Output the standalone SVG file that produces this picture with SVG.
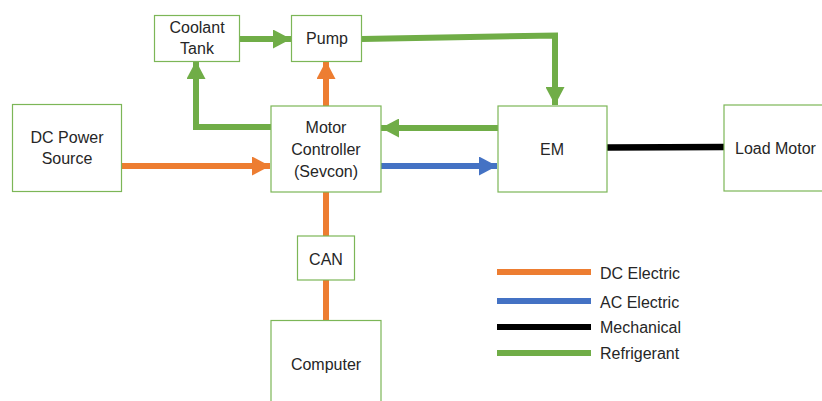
<svg xmlns="http://www.w3.org/2000/svg" width="822" height="401" viewBox="0 0 822 401">
<style>
.box{fill:#fff;stroke:#7cb657;stroke-width:1.2}
.t{font-family:"Liberation Sans",Arial,sans-serif;font-size:16px;fill:#262626}
.c{text-anchor:middle}
.ln{fill:none;stroke-width:6;stroke-linejoin:miter}
.g{stroke:#70AD47}.o{stroke:#ED7D31}.b{stroke:#4472C4}.k{stroke:#000}
</style>
<defs>
<marker id="ag" markerUnits="userSpaceOnUse" markerWidth="18" markerHeight="19" refX="18" refY="9.5" orient="auto"><path d="M0,0L18,9.5L0,19z" fill="#70AD47"/></marker>
<marker id="ao" markerUnits="userSpaceOnUse" markerWidth="18" markerHeight="19" refX="18" refY="9.5" orient="auto"><path d="M0,0L18,9.5L0,19z" fill="#ED7D31"/></marker>
<marker id="ab" markerUnits="userSpaceOnUse" markerWidth="18" markerHeight="19" refX="18" refY="9.5" orient="auto"><path d="M0,0L18,9.5L0,19z" fill="#4472C4"/></marker>
</defs>
<rect width="822" height="401" fill="#fff"/>
<g id="connectors">
<path class="ln g" d="M239,39L291,39" marker-end="url(#ag)"/>
<path class="ln o" d="M326,106L326,61" marker-end="url(#ao)"/>
<path class="ln g" d="M271,127L196,127L196,61" marker-end="url(#ag)"/>
<path class="ln g" d="M362,39L555,35.5L555,105" marker-end="url(#ag)"/>
<path class="ln g" d="M498,128L381,128" marker-end="url(#ag)"/>
<path class="ln o" d="M122,166L270,166" marker-end="url(#ao)"/>
<path class="ln b" d="M381,166L497,166" marker-end="url(#ab)"/>
<path class="ln k" d="M607,147.5L724,147" style="stroke-width:6.5"/>
<path class="ln o" d="M326,192L326,236"/>
<path class="ln o" d="M326,280L326,320"/>
</g>
<g id="coolant-tank"><rect class="box" x="154.5" y="15.5" width="85" height="46"/><text class="t c" x="197" y="33">Coolant</text><text class="t c" x="197" y="54">Tank</text></g>
<g id="pump"><rect class="box" x="291.5" y="15.5" width="70" height="46"/><text class="t c" x="327" y="44">Pump</text></g>
<g id="dc-power-source"><rect class="box" x="12.5" y="104.5" width="109" height="87"/><text class="t c" x="67" y="143">DC Power</text><text class="t c" x="67" y="164">Source</text></g>
<g id="motor-controller"><rect class="box" x="271" y="106" width="110" height="86"/><text class="t c" x="326" y="133">Motor</text><text class="t c" x="326" y="155">Controller</text><text class="t c" x="326" y="177">(Sevcon)</text></g>
<g id="em"><rect class="box" x="498" y="106" width="109" height="86"/><text class="t c" x="552" y="155">EM</text></g>
<g id="load-motor"><rect class="box" x="724" y="105" width="120" height="86"/><text class="t" x="735" y="154">Load Motor</text></g>
<g id="can"><rect class="box" x="297.5" y="236" width="57" height="44"/><text class="t c" x="326" y="265">CAN</text></g>
<g id="computer"><rect class="box" x="271" y="320.5" width="110" height="100"/><text class="t c" x="326" y="370">Computer</text></g>
<g id="legend">
<path class="ln o" d="M497,272L591,272"/>
<path class="ln b" d="M497,301L591,301"/>
<path class="ln k" d="M497,327L591,327"/>
<path class="ln g" d="M497,353L591,353"/>
<text class="t" x="600" y="279">DC Electric</text>
<text class="t" x="600" y="308">AC Electric</text>
<text class="t" x="600" y="333">Mechanical</text>
<text class="t" x="600" y="359">Refrigerant</text>
</g>
</svg>
